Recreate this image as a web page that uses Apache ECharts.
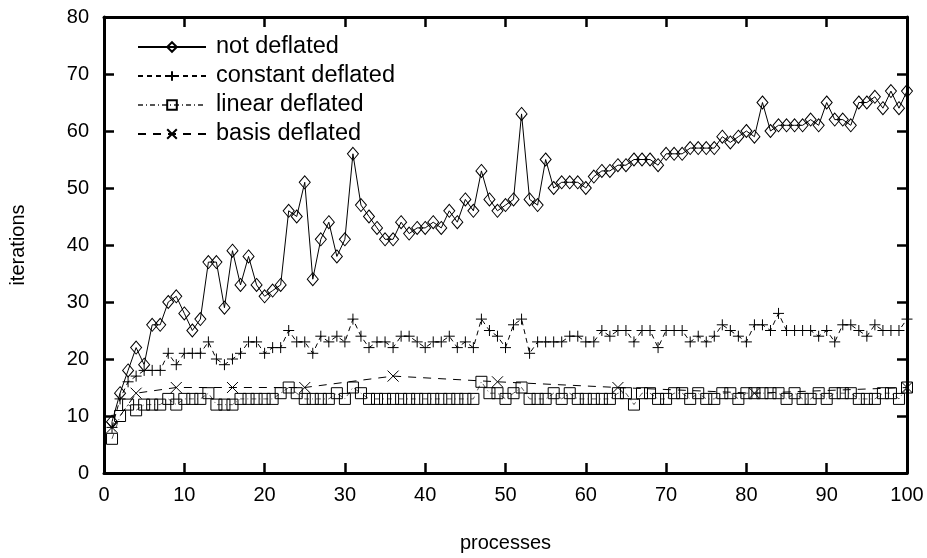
<!DOCTYPE html>
<html>
<head>
<meta charset="utf-8">
<script src="https://cdn.jsdelivr.net/npm/echarts@6/dist/echarts.min.js"></script>
<style>
html,body{margin:0;padding:0;background:#fff;}
#chart{width:927px;height:558px;}
</style>
</head>
<body>
<div id="chart"></div>
<script>
var processes = [1,2,3,4,5,6,7,8,9,10,11,12,13,14,15,16,17,18,19,20,21,22,23,24,25,26,27,28,29,30,31,32,33,34,35,36,37,38,39,40,41,42,43,44,45,46,47,48,49,50,51,52,53,54,55,56,57,58,59,60,61,62,63,64,65,66,67,68,69,70,71,72,73,74,75,76,77,78,79,80,81,82,83,84,85,86,87,88,89,90,91,92,93,94,95,96,97,98,99,100];

var notDeflated = [9,14,18,22,19,26,26,30,31,28,
25,27,37,37,29,39,33,38,33,31,
32,33,46,45,51,34,41,44,38,41,
56,47,45,43,41,41,44,42,43,43,
44,43,46,44,48,46,53,48,46,47,
48,63,48,47,55,50,51,51,51,50,
52,53,53,54,54,55,55,55,54,56,
56,56,57,57,57,57,59,58,59,60,
59,65,60,61,61,61,61,62,61,65,
62,62,61,65,65,66,64,67,64,67];

var constantDeflated = [8,13,16,17,18,18,18,21,19,21,
21,21,23,20,19,20,21,23,23,21,
22,22,25,23,23,21,24,23,24,23,
27,24,22,23,23,22,24,24,23,22,
23,23,24,22,23,22,27,25,24,22,
26,27,21,23,23,23,23,24,24,23,
23,25,24,25,25,23,25,25,22,25,
25,25,23,24,23,24,26,25,24,23,
26,26,25,28,25,25,25,25,24,25,
23,26,26,25,24,26,25,25,25,27];

var linearDeflated = [6,10,12,11,12,12,12,13,12,13,
13,13,14,12,12,12,13,13,13,13,
13,14,15,14,13,13,13,13,14,13,
15,14,13,13,13,13,13,13,13,13,
13,13,13,13,13,13,16,14,14,13,
14,15,13,13,13,14,13,14,13,13,
13,13,13,14,14,12,14,14,13,13,
14,14,13,14,13,13,14,14,13,14,
14,14,14,14,13,14,13,13,14,13,
14,14,14,13,13,13,14,14,13,15];

var basisProcesses = [1,4,9,16,25,36,49,64,81,100];
var basisDeflated = [8,14,15,15,15,17,16,15,14,15];

var seriesNames = ['not deflated','constant deflated','linear deflated','basis deflated'];

function pairs(xs, ys){ return xs.map(function(x,i){ return [x, ys[i]]; }); }

var FONT = 'Liberation Sans';
var chart = echarts.init(document.getElementById('chart'), null, {renderer:'canvas'});

function mkAxis(extra){
  var base = {
    type:'value',
    splitLine:{show:false},
    axisLine:{show:true, onZero:false, lineStyle:{color:'#000', width:3}},
    axisTick:{show:true, inside:true, length:10, lineStyle:{color:'#000', width:2.5}},
    axisLabel:{color:'#000', fontSize:20, fontFamily:FONT}
  };
  return Object.assign(base, extra);
}

var PLUS = 'path://M5,0L5,10M0,5L10,5';
var CROSS = 'path://M0,0L10,10M10,0L0,10';

chart.setOption({
  animation:false,
  backgroundColor:'#fff',
  grid:{left:104, right:20, top:17, bottom:82},
  legend:{
    left:132, top:30, orient:'vertical',
    itemWidth:68, itemHeight:12, itemGap:5,
    textStyle:{color:'#000', fontSize:23.5, lineHeight:24, fontFamily:FONT, padding:[0,0,0,5]},
    data:seriesNames
  },
  xAxis:[
    mkAxis({min:0, max:100, interval:10, position:'bottom',
        name:'processes', nameLocation:'middle', nameGap:60,
        nameTextStyle:{color:'#000', fontSize:20, fontFamily:FONT},
        axisLabel:{color:'#000', fontSize:20, fontFamily:FONT, margin:12}}),
    mkAxis({min:0, max:100, interval:10, position:'top', axisLabel:{show:false}})
  ],
  yAxis:[
    mkAxis({min:0, max:80, interval:10, position:'left',
        name:'iterations', nameLocation:'middle', nameGap:76,
        nameTextStyle:{color:'#000', fontSize:20, fontFamily:FONT},
        axisLabel:{color:'#000', fontSize:20, fontFamily:FONT, margin:15}}),
    mkAxis({min:0, max:80, interval:10, position:'right', axisLabel:{show:false}})
  ],
  series:[
    {
      name:seriesNames[0], type:'line', data:pairs(processes, notDeflated),
      symbol:'diamond', symbolSize:[11,13], showAllSymbol:true,
      lineStyle:{color:'#000', width:1, type:'solid'},
      itemStyle:{color:'rgba(0,0,0,0)', borderColor:'#000', borderWidth:1},
      emphasis:{disabled:true}
    },
    {
      name:seriesNames[1], type:'line', data:pairs(processes, constantDeflated),
      symbol:PLUS, symbolSize:11, showAllSymbol:true,
      lineStyle:{color:'#000', width:1, type:[5,4]},
      itemStyle:{color:'rgba(0,0,0,0)', borderColor:'#000', borderWidth:1},
      emphasis:{disabled:true}
    },
    {
      name:seriesNames[2], type:'line', data:pairs(processes, linearDeflated),
      symbol:'rect', symbolSize:11, showAllSymbol:true,
      lineStyle:{color:'#555', width:1, type:[5,3,1,3]},
      itemStyle:{color:'rgba(0,0,0,0)', borderColor:'#000', borderWidth:1},
      emphasis:{disabled:true}
    },
    {
      name:seriesNames[3], type:'line', data:pairs(basisProcesses, basisDeflated),
      symbol:CROSS, symbolSize:11, showAllSymbol:true,
      lineStyle:{color:'#000', width:1, type:[8,7]},
      itemStyle:{color:'rgba(0,0,0,0)', borderColor:'#000', borderWidth:1},
      emphasis:{disabled:true}
    }
  ]
});
</script>
</body>
</html>
